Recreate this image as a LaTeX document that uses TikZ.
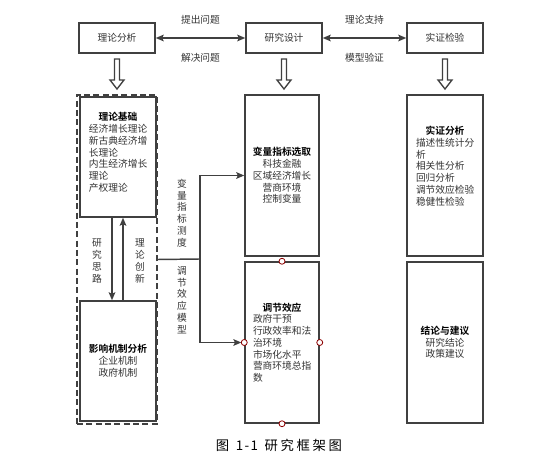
\documentclass[tikz,border=0pt]{standalone}
\usepackage{fontspec}
\setmainfont{Noto Sans CJK SC}[BoldFont={Noto Sans CJK SC Bold}]
\usetikzlibrary{arrows.meta}

\begin{document}
\begin{tikzpicture}[
  x=0.75pt, y=-0.75pt,
  font=\fontsize{7.3pt}{8.8pt}\selectfont,
  line/.style={draw=black!75, line width=1.1pt},
  box/.style={line, rectangle, fill=white, text=black!80, inner sep=0pt},
  topbox/.style={box, minimum width=57pt, minimum height=22.5pt},
  sidebox/.style={box, minimum width=57pt, minimum height=90pt},
  midbox/.style={box, minimum width=55.5pt, minimum height=120.75pt},
  rightbox/.style={box, minimum width=57pt, minimum height=120.75pt},
  lbl/.style={text=black!80, inner sep=0pt, align=center},
  arr/.style={line, arrows={-Stealth[length=6pt, width=5pt, inset=1.2pt]}},
  dbl/.style={line, arrows={Stealth[length=6pt, width=5pt, inset=1.2pt]-Stealth[length=6pt, width=5pt, inset=1.2pt]}},
  hollow/.style={draw=black!75, line width=1pt, fill=white, line join=miter},
  port/.style={circle, draw=red!55!black, fill=white, line width=0.6pt, inner sep=0pt, minimum size=4.5pt}
]
\useasboundingbox (0,0) rectangle (551,463);

% Top row
\node[topbox] (lun) at (117,38) {理论分析};
\node[topbox] (yan) at (284,38) {研究设计};
\node[topbox] (shi) at (445,38) {实证检验};

\draw[dbl] (lun) -- node[lbl, above=10pt]{提出问题} node[lbl, below=11pt]{解决问题} (yan);
\draw[dbl] (yan) -- node[lbl, above=10pt]{理论支持} node[lbl, below=11pt]{模型验证} (shi);

% Hollow arrows down
\foreach \x in {117,284,445}
  \draw[hollow] (\x-2.5,59) -- (\x-2.5,80) -- (\x-7,80) -- (\x,89) -- (\x+7,80) -- (\x+2.5,80) -- (\x+2.5,59) -- cycle;

% Left column (dashed group)
\node[draw=black!75, line width=1pt, dashed, dash pattern=on 4.5pt off 2.5pt, minimum width=60pt, minimum height=246.75pt] (frame) at (117,259.5) {};
\node[sidebox, text width=43.5pt, align=left] (jichu) at (118,157)
  {\makebox[43.5pt]{\color{black}\bfseries 理论基础}\\经济增长理论\\新古典经济增\\长理论\\内生经济增长\\理论\\产权理论\\[-1.3pt]\mbox{}};
\node[sidebox, align=center] (jizhi) at (118,361)
  {{\color{black}\bfseries 影响机制分析}\\企业机制\\政府机制};

\draw[arr] ([xshift=-4.5pt]jichu.south) -- ([xshift=-4.5pt]jizhi.north);
\draw[arr] ([xshift=3.75pt]jizhi.north) -- ([xshift=3.75pt]jichu.south);
\node[lbl] (silu) at (97,261) {研\\究\\思\\路};
\node[lbl] (chuangxin) at (140,261) {理\\论\\创\\新};

% Middle column
\node[midbox, align=center] (bianliang) at (282,175.5)
  {{\color{black}\bfseries 变量指标选取}\\科技金融\\区域经济增长\\营商环境\\控制变量};
\node[midbox, text width=43.5pt, align=left] (tiaojie) at (282,342.5)
  {\makebox[43.5pt]{\color{black}\bfseries 调节效应}\\政府干预\\行政效率和法\\治环境\\市场化水平\\营商环境总指\\数};

\coordinate (fork) at (200,259);
\draw[line] (frame.east) -- (fork);
\draw[arr] (fork) |- (bianliang.west);
\draw[arr, shorten >=2.2pt] (fork) |- (tiaojie.west);
\node[lbl] (celiang) at (182,213) {变\\量\\指\\标\\测\\度};
\node[lbl] (moxing) at (182,300) {调\\节\\效\\应\\模\\型};

\foreach \a in {north,south,west,east}
  \node[port] at (tiaojie.\a) {};

% Right column
\node[rightbox, text width=43.5pt, align=left] (shizheng) at (445,175.5)
  {\makebox[43.5pt]{\color{black}\bfseries 实证分析}\\描述性统计分\\析\\相关性分析\\回归分析\\调节效应检验\\稳健性检验\\[6pt]\mbox{}};
\node[rightbox, align=center] (jielun) at (445,342.5)
  {{\color{black}\bfseries 结论与建议}\\研究结论\\政策建议};

% Caption
\node[font=\fontsize{10pt}{12pt}\selectfont] (caption) at (279,445)
  {图\hspace{5pt}1\hspace{1pt}-\hspace{1pt}1\hspace{5pt}研\hspace{2pt}究\hspace{2pt}框\hspace{2pt}架\hspace{2pt}图};

\end{tikzpicture}
\end{document}
